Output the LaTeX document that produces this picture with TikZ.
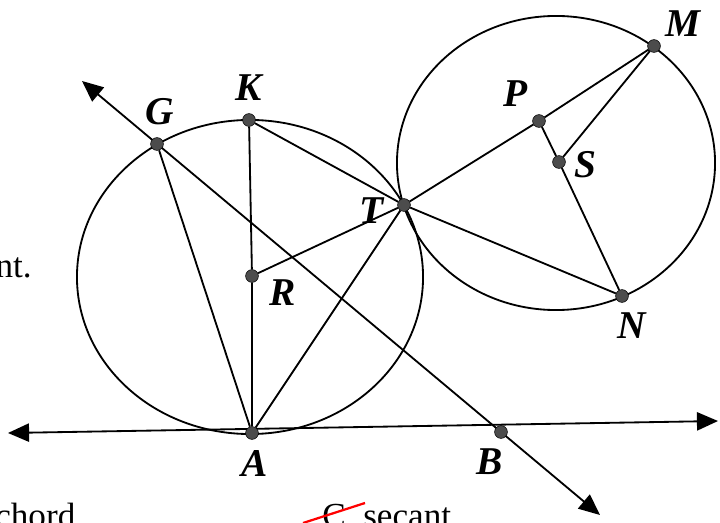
\documentclass[tikz,border=0pt]{standalone}
\usepackage{fontspec}
\setmainfont{Liberation Serif}
\usetikzlibrary{arrows.meta}
\begin{document}
\begin{tikzpicture}[
  x=0.025cm, y=-0.025cm,
  punto/.style={circle, draw=black, fill=black!70, inner sep=0pt, minimum size=3.2mm},
  letra/.style={font=\fontsize{28}{30}\selectfont\bfseries\itshape},
  texto/.style={font=\fontsize{25}{28}\selectfont},
  linea/.style={line width=1.3pt, draw=black},
  flecha/.style={linea, >={Triangle[length=15pt,width=13pt]}, <->}
]
  \useasboundingbox (0,0) rectangle (720,523);

  % Extremos libres de las rectas
  \coordinate (g0) at (82,81);
  \coordinate (b0) at (600,515);
  \coordinate (a0) at (8,433);
  \coordinate (a1) at (718,421);

  % Circunferencias (centros R y S)
  \draw[linea] (250,277) ellipse [x radius=4.325cm, y radius=3.925cm];
  \draw[linea] (556,163) ellipse [x radius=3.975cm, y radius=3.675cm];

  % Recta GB y tangente por A
  \draw[flecha] (g0) -- (b0);
  \draw[flecha] (a0) -- (a1);

  % Puntos
  \foreach \n/\x/\y in {G/157/144, K/249/120, T/404/205, R/252/276, A/252/433,
                        B/501/432, P/539/121, S/559/162, M/654/46, N/622/296} {
    \node[punto] (\n) at (\x,\y) {};
  }

  % Cuerdas y radios
  \draw[linea] (G) -- (A);
  \draw[linea] (K) -- (R) -- (A);
  \draw[linea] (K) -- (T) -- (A);
  \draw[linea] (R) -- (T);
  \draw[linea] (T) -- (P) -- (M) -- (S) -- (N) -- (T);
  \draw[linea] (P) -- (S);

  % Etiquetas
  \node[letra] (lG) at (160,112) {G};
  \node[letra] (lK) at (249,88) {K};
  \node[letra] (lT) at (372,211) {T};
  \node[letra] (lR) at (283,293) {R};
  \node[letra] (lA) at (255,463) {A};
  \node[letra] (lB) at (490,462) {B};
  \node[letra] (lP) at (516,94) {P};
  \node[letra] (lS) at (585,165) {S};
  \node[letra] (lM) at (683,24) {M};
  \node[letra] (lN) at (632,326) {N};

  % Texto recortado de la hoja
  \node[texto, anchor=base east, inner sep=0pt] (t1) at (32,278) {nt.};
  \node[texto, anchor=base west, inner sep=0pt] (t2) at (-5,527) {chord};
  \node[texto, anchor=base west, inner sep=0pt] (t3) at (322,527) {C. secant};
  \draw[red, line width=1.6pt] (303,523) -- (365,503);
\end{tikzpicture}
\end{document}
